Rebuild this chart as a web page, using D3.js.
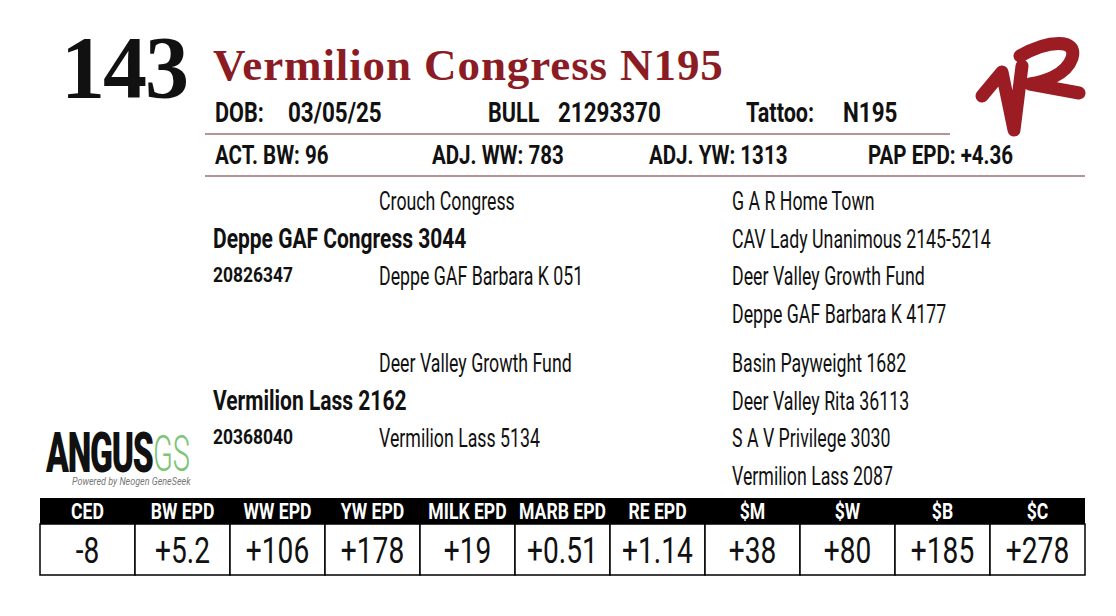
<!DOCTYPE html>
<html lang="en">
    <head>
        <meta charset="utf-8">
        <title>Lot 143</title>
        <script src="https://d3js.org/d3.v7.min.js"></script>
        <style type="text/css">
            body { margin: 0; background: #fff; }
            text { font-family: Roboto, "Noto Sans", sans-serif; fill: #111; }
            .serif { font-family: "Liberation Serif", "DejaVu Serif", serif; font-weight: bold; }
            .rule { stroke: #6e2a2c; stroke-width: 1.2px; }
        </style>
    </head>
    <body>
        <script type="text/javascript">

            const w = 1116;
            const h = 616;

            const lotNumber = "143";
            const animalName = "Vermilion Congress N195";
            const idLabels = ["DOB:", "BULL", "Tattoo:"];
            const idValues = ["03/05/25", "21293370", "N195"];
            const perfLabels = ["ACT. BW:", "ADJ. WW:", "ADJ. YW:", "PAP EPD:"];
            const perfValues = ["96", "783", "1313", "+4.36"];

            // pedigree: sire side then dam side
            const parents = ["Deppe GAF Congress 3044", "Vermilion Lass 2162"];
            const parentRegs = ["20826347", "20368040"];
            const grandParents = ["Crouch Congress", "Deppe GAF Barbara K 051",
                                  "Deer Valley Growth Fund", "Vermilion Lass 5134"];
            const greatGrandParents = ["G A R Home Town", "CAV Lady Unanimous 2145-5214",
                                       "Deer Valley Growth Fund", "Deppe GAF Barbara K 4177",
                                       "Basin Payweight 1682", "Deer Valley Rita 36113",
                                       "S A V Privilege 3030", "Vermilion Lass 2087"];

            const epdLabels = ["CED", "BW EPD", "WW EPD", "YW EPD", "MILK EPD", "MARB EPD",
                               "RE EPD", "$M", "$W", "$B", "$C"];
            const epdValues = ["-8", "+5.2", "+106", "+178", "+19", "+0.51",
                               "+1.14", "+38", "+80", "+185", "+278"];

            const svg = d3.select("body").append("svg").attr("width", w).attr("height", h);

            // condensed text helper (squeezes Roboto sideways)
            function label(x, y, str, size, weight, sx, anchor) {
                return svg.append("text")
                    .attr("transform", `translate(${x},${y}) scale(${sx},1)`)
                    .attr("font-size", size)
                    .attr("font-weight", weight)
                    .attr("text-anchor", anchor || "start")
                    .text(str);
            }

            // ---- header ----
            svg.append("text").attr("class", "serif")
                .attr("x", 61).attr("y", 97)
                .attr("font-size", 88)
                .attr("letter-spacing", -2)
                .text(lotNumber);

            svg.append("text").attr("class", "serif")
                .attr("x", 213).attr("y", 80)
                .attr("font-size", 45)
                .style("fill", "#8b1c24")
                .attr("letter-spacing", 0.9)
                .text(animalName);

            const idX = d3.scaleOrdinal().domain(idLabels).range([215, 488, 746]);
            const idGap = [73, 70, 97];
            idLabels.forEach((d, i) => {
                label(idX(d), 122, d, 27, "bold", 0.8);
                label(idX(d) + idGap[i], 122, idValues[i], 27, "bold", 0.83);
            });
            svg.append("line").attr("class", "rule")
                .attr("x1", 205).attr("x2", 950).attr("y1", 134).attr("y2", 134);

            const perfX = d3.scaleOrdinal().domain(perfLabels).range([215, 432, 649, 868]);
            perfLabels.forEach((d, i) => {
                label(perfX(d), 164, d + " " + perfValues[i], 26, "bold", 0.79);
            });
            svg.append("line").attr("class", "rule")
                .attr("x1", 205).attr("x2", 1085).attr("y1", 176).attr("y2", 176);

            // ---- 1R brand ----
            svg.append("path")
                .attr("d", "M982,96 L1002,72 L1014,130 L1022,66 M1020,56 C1048,40 1078,38 1072,58 C1066,76 1042,82 1030,84 L1079,93")
                .attr("fill", "none")
                .attr("stroke", "#9c1c24")
                .attr("stroke-width", 13)
                .attr("stroke-linecap", "round")
                .attr("stroke-linejoin", "round");

            // ---- pedigree ----
            // 8 rows of great-grandparents, with a gap between sire and dam halves
            const rowY = i => 210 + i * 37.5 + (i >= 4 ? 12 : 0);
            const colX = [213, 379, 732];

            greatGrandParents.forEach((d, i) => label(colX[2], rowY(i), d, 25, "normal", 0.71));
            grandParents.forEach((d, i) => label(colX[1], rowY(i * 2), d, 25, "normal", 0.71));
            parents.forEach((d, i) => {
                label(colX[0], rowY(i * 4 + 1), d, 28, "bold", 0.75);
                label(colX[0], rowY(i * 4 + 2) - 3, parentRegs[i], 21, "bold", 0.83);
            });

            // ---- AngusGS logo ----
            svg.append("text")
                .attr("transform", "translate(46,472) scale(0.6,1)")
                .attr("font-size", 56).attr("font-weight", 900)
                .attr("letter-spacing", -2)
                .text("ANGUS");
            svg.append("text")
                .attr("transform", "translate(153,471) scale(0.58,1)")
                .attr("font-size", 50).attr("font-weight", 300)
                .style("fill", "#7cc576")
                .text("GS");
            svg.append("text")
                .attr("transform", "translate(72,485) scale(0.9,1)")
                .attr("font-size", 10).attr("font-style", "italic")
                .style("fill", "#777")
                .text("Powered by Neogen GeneSeek");

            // ---- EPD table ----
            const x = d3.scaleBand().domain(epdLabels).range([40, 1085]);
            const headTop = 498, headH = 26, bodyH = 51;

            svg.append("rect")
                .attr("x", x.range()[0]).attr("y", headTop)
                .attr("width", x.range()[1] - x.range()[0]).attr("height", headH)
                .attr("fill", "#000");

            svg.selectAll(".cell")
                .data(epdLabels)
                .enter().append("rect")
                .attr("class", "cell")
                .attr("x", d => x(d)).attr("y", headTop + headH)
                .attr("width", x.bandwidth()).attr("height", bodyH)
                .attr("fill", "#fff").attr("stroke", "#000").attr("stroke-width", 1.5);

            epdLabels.forEach((d, i) => {
                label(x(d) + x.bandwidth() / 2, headTop + 21, d, 22, "bold", 0.8, "middle")
                    .style("fill", "#fff");
                label(x(d) + x.bandwidth() / 2, headTop + headH + 39, epdValues[i], 37, "normal", 0.76, "middle");
            });
        </script>
    </body>
</html>
